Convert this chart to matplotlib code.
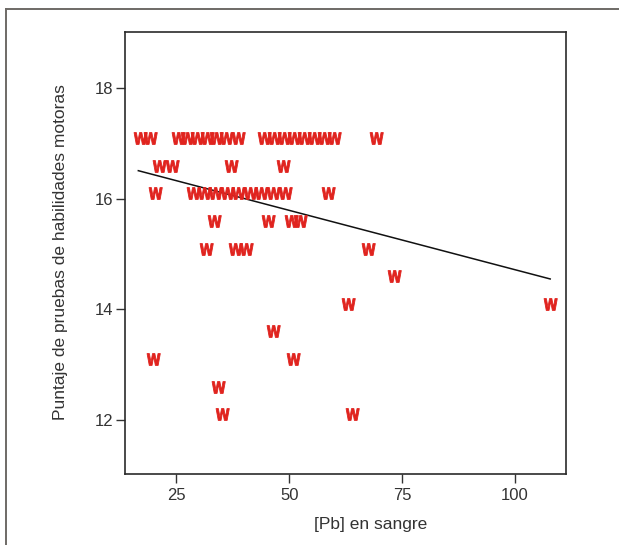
import numpy as np
import matplotlib
matplotlib.use("Agg")
import matplotlib.pyplot as plt
from matplotlib.path import Path
from matplotlib.textpath import TextPath
from matplotlib.font_manager import FontProperties
from matplotlib.lines import Line2D

# ---- data ----
pb_blood = [17.0, 19.2, 25.4, 27.4, 29.6, 31.8, 33.8, 36.0, 38.7, 44.4, 46.6, 48.8, 51.1, 53.3, 55.5, 57.7, 59.9, 69.2,
            21.2, 24.0, 37.1, 48.6,
            20.2, 28.7, 31.1, 33.6, 36.2, 38.7, 41.3, 43.8, 46.5, 49.1, 58.6,
            33.3, 45.3, 50.4, 52.4,
            31.6, 38.0, 40.4, 67.4,
            73.2,
            63.0, 107.7,
            46.4,
            19.8, 50.8,
            34.2,
            35.1, 63.9]
motor_score = [17.1] * 18 + [16.6] * 4 + [16.1] * 11 + [15.6] * 4 + [15.1] * 4 + [14.6] + [14.1] * 2 + [13.6] + [13.1] * 2 + [12.6] + [12.1] * 2

fit_x = [16.6, 107.8]
fit_y = [16.51, 14.55]

x_ticks = [25, 50, 75, 100]
y_ticks = [12, 14, 16, 18]

plt.rcParams['font.family'] = ['Liberation Sans', 'DejaVu Sans']

fig = plt.figure(figsize=(6.19, 5.45), dpi=100)
ax = fig.add_axes([125 / 619, 1 - 474 / 545, 441 / 619, 442 / 545])

# "W" marker path
tp = TextPath((0, 0), "W", size=1, prop=FontProperties(family='DejaVu Sans', weight='bold'))
v = tp.vertices.copy()
xmin, ymin = v.min(axis=0)
xmax, ymax = v.max(axis=0)
v[:, 0] = (v[:, 0] - (xmin + xmax) / 2) / (xmax - xmin)
v[:, 1] = (v[:, 1] - (ymin + ymax) / 2) / (ymax - ymin) * (12.0 / 13.8)
wpath = Path(v, tp.codes)

ax.scatter(pb_blood, motor_score, marker=wpath, s=(13.6 * 72 / 100) ** 2,
           color='#E0231E', edgecolors='#E0231E', linewidths=0.6, zorder=3)
ax.plot(fit_x, fit_y, color='#111111', lw=1.1, zorder=2)

ax.set_xlim(13.65, 111.3)
ax.set_ylim(11.02, 19.02)
ax.set_xticks(x_ticks)
ax.set_yticks(y_ticks)
ax.tick_params(axis='both', direction='out', length=6.2, width=1.0, color='#333333',
               labelsize=12, labelcolor='#333333')
ax.tick_params(axis='x', pad=4.0)
ax.tick_params(axis='y', pad=2.5)
for s in ax.spines.values():
    s.set_linewidth(1.2)
    s.set_color('#2a2a2a')

ax.set_xlabel('[Pb] en sangre', fontsize=12.5, color='#333333')
ax.xaxis.set_label_coords((370.7 - 125) / 441, (474 - 525) / 442)
ax.xaxis.label.set_va('center')
ax.set_ylabel('Puntaje de pruebas de habilidades motoras', fontsize=12.5, color='#333333')
ax.yaxis.set_label_coords((61 - 125) / 441, 0.503)
ax.yaxis.label.set_va('center')

# outer partial frame (top and left)
fig.add_artist(Line2D([6 / 619, 1.0], [1 - 8.7 / 545, 1 - 8.7 / 545], transform=fig.transFigure,
                      color='#6e6a66', lw=1.4))
fig.add_artist(Line2D([6.3 / 619, 6.3 / 619], [0.0, 1 - 8.7 / 545], transform=fig.transFigure,
                      color='#6e6a66', lw=1.4))

fig.savefig('out.png', dpi=100)
